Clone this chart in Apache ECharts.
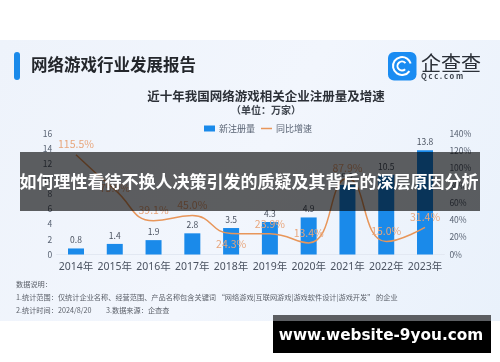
<!DOCTYPE html>
<html>
<head>
<meta charset="utf-8">
<script src="https://cdn.jsdelivr.net/npm/echarts@6/dist/echarts.min.js"></script>
<style>
  html, body { margin: 0; padding: 0; background: #fff; }
  #chart { width: 500px; height: 362px; }
</style>
</head>
<body>
<div id="chart"></div>
<script>
const years = ['2014年', '2015年', '2016年', '2017年', '2018年', '2019年', '2020年', '2021年', '2022年', '2023年'];
const newRegs = [0.8, 1.4, 1.9, 2.8, 3.5, 4.3, 4.9, 9.2, 10.5, 13.8];
const growth = [115.5, 75.0, 39.1, 45.0, 24.3, 23.9, 13.4, 87.9, 15.0, 31.4];
const cjk = '"Noto Sans CJK SC", "Noto Sans", sans-serif';

const text = (x, y, t, size, color, weight, align) => ({
  type: 'text', x, y, z: 10,
  style: { text: t, font: `${weight || 'normal'} ${size}px ${cjk}`, fill: color, textAlign: align || 'left', textVerticalAlign: 'middle' }
});

const myChart = echarts.init(document.getElementById('chart'));
myChart.setOption({
  animation: false,
  textStyle: { fontFamily: cjk },
  title: {
    text: '近十年我国网络游戏相关企业注册量及增速',
    subtext: '（单位：万家）',
    left: 261, top: 85, textAlign: 'center', itemGap: 3,
    textStyle: { fontSize: 12.5, fontWeight: 'bold', color: '#2b2f36' },
    subtextStyle: { fontSize: 10, color: '#3d434c', fontWeight: 'bold' }
  },
  legend: {
    top: 119, left: 199, itemWidth: 11, itemHeight: 6, itemGap: 6,
    textStyle: { fontSize: 9, color: '#596373', padding: [0, 0, 0, -1] },
    data: [
      { name: '新注册量', icon: 'rect' },
      // plain dash, the line series has a zero size symbol
      { name: '同比增速', icon: 'path://M0 0H11V1.5H0Z' }
    ]
  },
  grid: { left: 56.6, right: 55.6, top: 133.5, bottom: 107.5 },
  xAxis: {
    type: 'category',
    data: years,
    axisTick: { show: false },
    axisLine: { lineStyle: { color: '#e2e8f2' } },
    axisLabel: { interval: 0, fontSize: 10.5, color: '#4a5260', margin: 7, fontFamily: '"Noto Sans", "Noto Sans CJK SC", sans-serif' }
  },
  yAxis: [
    {
      type: 'value', min: 0, max: 16, interval: 2,
      splitLine: { show: false },
      axisLabel: { fontSize: 8.5, color: '#596373', margin: 4.5 }
    },
    {
      type: 'value', min: 0, max: 140, interval: 20,
      splitLine: { show: false },
      axisLabel: { fontSize: 8.5, color: '#596373', formatter: '{value}%', margin: 5 }
    }
  ],
  series: [
    {
      name: '新注册量',
      type: 'bar',
      data: newRegs,
      barWidth: 16,
      itemStyle: { color: '#1a8aea' },
      label: { show: true, position: 'top', fontSize: 8.5, color: '#4a5260', distance: 4 }
    },
    {
      name: '同比增速',
      type: 'line',
      yAxisIndex: 1,
      // labels disappear with symbol none, so keep a zero size one
      data: growth.map((v, i) => i === 4
        ? { value: v, label: { position: 'bottom' } }
        : i === 1 ? { value: v, label: { offset: [0, 9] } } : v),
      smooth: true,
      symbol: 'circle',
      symbolSize: 0,
      showAllSymbol: true,
      lineStyle: { color: '#e8965a', width: 1.5 },
      itemStyle: { color: '#e8965a' },
      label: {
        show: true, position: 'top', fontSize: 10.5, color: '#e8a67c', distance: 5,
        formatter: p => p.value.toFixed(1) + '%'
      }
    }
  ],
  graphic: [
    {
      type: 'rect', z: -10, silent: true,
      shape: { x: 0, y: 40, width: 500, height: 281 },
      style: {
        fill: new echarts.graphic.LinearGradient(0, 0, 1, 1, [
          { offset: 0, color: '#eef3fb' },
          { offset: 0.5, color: '#f2f6fd' },
          { offset: 1, color: '#e9f1fb' }
        ])
      }
    },
    { type: 'rect', z: 10, shape: { x: 14, y: 52, width: 6, height: 28, r: 3 }, style: { fill: '#1a8aea' } },
    text(31, 65, '网络游戏行业发展报告', 16.5, '#23262b', 'bold'),
    // logo
    { type: 'rect', z: 10, shape: { x: 388, y: 52, width: 28.5, height: 28.5, r: 6 }, style: { fill: '#1a8cf2' } },
    { type: 'arc', z: 11, shape: { cx: 402, cy: 66, r: 9, startAngle: 0.6, endAngle: 6.0 }, style: { stroke: '#fff', lineWidth: 2, fill: 'none' } },
    { type: 'arc', z: 11, shape: { cx: 402, cy: 66, r: 4.5, startAngle: 0.8, endAngle: 5.6 }, style: { stroke: '#fff', lineWidth: 2, fill: 'none' } },
    text(421, 63, '企查查', 20, '#2b3038', 'normal'),
    text(421, 76, 'Q c c . c o m', 7.5, '#3d434c', 'bold'),
    // notes
    text(16, 284, '数据说明：', 7.2, '#5a5f68'),
    text(16, 297, '1.统计范围：仅统计企业名称、经营范围、产品名称包含关键词 “网络游戏|互联网游戏|游戏软件设计|游戏开发” 的企业', 7.2, '#5a5f68'),
    text(16, 310, '2.统计时间：2024/8/20', 7.2, '#5a5f68'),
    text(106, 310, '3.数据来源：企查查', 7.2, '#5a5f68'),
    // banner over the chart
    { type: 'rect', z: 100, shape: { x: 20, y: 152, width: 460, height: 59 }, style: { fill: 'rgba(0,0,0,0.62)' } },
    { type: 'text', x: 249, y: 182, z: 101, style: { text: '如何理性看待不换人决策引发的质疑及其背后的深层原因分析', font: `bold 17px ${cjk}`, fill: '#fff', textAlign: 'center', textVerticalAlign: 'middle' } },
    // watermark
    { type: 'rect', z: 100, shape: { x: 273, y: 315, width: 218, height: 38 }, style: { fill: '#000' } },
    { type: 'rect', z: 100, shape: { x: 273, y: 315, width: 218, height: 6 }, style: { fill: '#5c5e62' } },
    { type: 'text', x: 381, y: 336, z: 101, style: { text: 'www.website-9you.com', font: 'bold 15.3px "DejaVu Sans", sans-serif', fill: '#fff', textAlign: 'center', textVerticalAlign: 'middle' } }
  ]
});
</script>
</body>
</html>
